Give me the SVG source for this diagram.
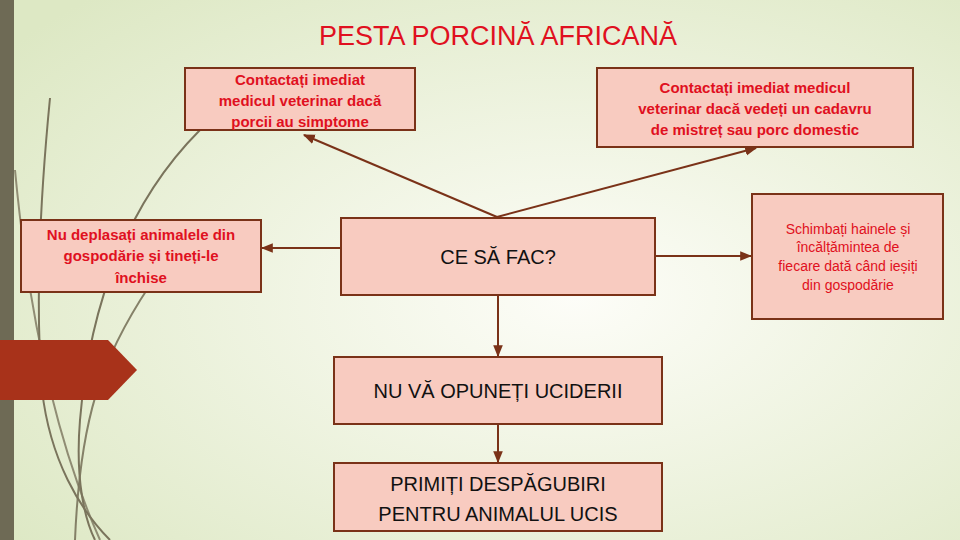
<svg xmlns="http://www.w3.org/2000/svg" width="960" height="540" viewBox="0 0 960 540">
<defs>
<radialGradient id="bg" cx="0.6" cy="0.55" r="0.75">
<stop offset="0" stop-color="#fdfdf8"/><stop offset="1" stop-color="#dde8c4"/>
</radialGradient>
<marker id="ah" viewBox="0 0 10 10" refX="9" refY="5" markerWidth="6" markerHeight="6" orient="auto"><path d="M0,1 L10,5 L0,9 z" fill="#7a3218"/></marker>
<style>
.box{fill:#f8cbc0;stroke:#7a3218;stroke-width:2}
.t{font-family:"Liberation Sans",Arial,sans-serif;fill:#e01020;text-anchor:middle}
.b{font-weight:bold;font-size:15px}
.k{fill:#111;font-size:20px}
.c{stroke:#7a3218;stroke-width:2;fill:none;marker-end:url(#ah)}
.deco{fill:none;stroke:#7a745c;stroke-width:2}
</style>
</defs>
<rect width="960" height="540" fill="url(#bg)"/>
<rect x="0" y="0" width="14" height="540" fill="#6e6a55"/>
<g id="decor">
<path class="deco" d="M50,98 C40,200 35,300 42,390 C50,460 80,510 110,540"/>
<path class="deco" d="M15,170 C30,330 60,450 100,540" opacity="0.8"/>
<path class="deco" d="M200,130 C130,200 90,300 80,420 C75,480 85,520 95,540" stroke="#c8ccb0"/>
<path class="deco" d="M150,285 C100,360 80,420 75,540" opacity="0.9"/>
</g>
<polygon points="0,340 108,340 137,370 108,400 0,400" fill="#a8321a"/>
<text class="t" x="498" y="45" font-size="27">PESTA PORCINĂ AFRICANĂ</text>
<g id="connectors">
<line class="c" x1="497" y1="217" x2="304" y2="135"/>
<line class="c" x1="497" y1="217" x2="756" y2="148"/>
<line class="c" x1="341" y1="248" x2="262" y2="248"/>
<line class="c" x1="655" y1="256" x2="751" y2="256"/>
<line class="c" x1="498" y1="295" x2="498" y2="356"/>
<line class="c" x1="498" y1="424" x2="498" y2="462"/>
</g>
<g id="n1"><rect class="box" x="185" y="68" width="230" height="62"/>
<text class="t b" x="300" y="85">Contactați imediat</text><text class="t b" x="300" y="106">medicul veterinar dacă</text><text class="t b" x="300" y="127">porcii au simptome</text></g>
<g id="n2"><rect class="box" x="597" y="68" width="316" height="79"/>
<text class="t b" x="755" y="93">Contactați imediat medicul</text><text class="t b" x="755" y="114">veterinar dacă vedeți un cadavru</text><text class="t b" x="755" y="135">de mistreț sau porc domestic</text></g>
<g id="n3"><rect class="box" x="21" y="220" width="240" height="72"/>
<text class="t b" x="141" y="240">Nu deplasați animalele din</text><text class="t b" x="141" y="261">gospodărie și tineți-le</text><text class="t b" x="141" y="283">închise</text></g>
<g id="n4"><rect class="box" x="341" y="218" width="314" height="77"/>
<text class="t k" x="498" y="264">CE SĂ FAC?</text></g>
<g id="n5"><rect class="box" x="752" y="194" width="191" height="125"/>
<text class="t" font-size="14" x="848" y="234">Schimbați hainele și</text><text class="t" font-size="14" x="848" y="252">încălțămintea de</text><text class="t" font-size="14" x="848" y="271">fiecare dată când ieșiți</text><text class="t" font-size="14" x="848" y="290">din gospodărie</text></g>
<g id="n6"><rect class="box" x="334" y="357" width="328" height="67"/>
<text class="t k" x="498" y="398" style="fill:#111">NU VĂ OPUNEȚI UCIDERII</text></g>
<g id="n7"><rect class="box" x="334" y="463" width="328" height="68"/>
<text class="t k" x="498" y="491">PRIMIȚI DESPĂGUBIRI</text><text class="t k" x="498" y="521">PENTRU ANIMALUL UCIS</text></g>
</svg>
